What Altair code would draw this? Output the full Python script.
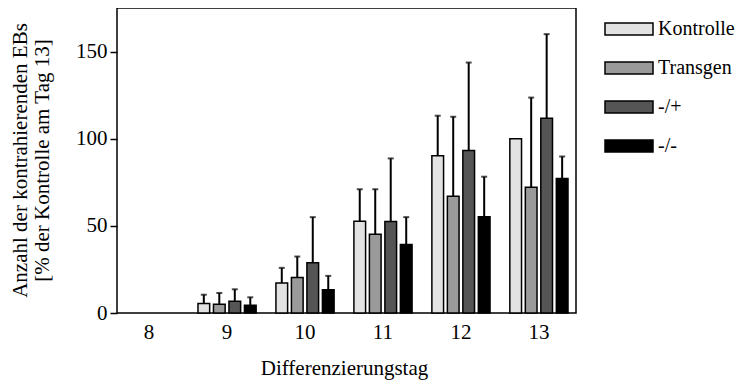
import altair as alt
import pandas as pd

days = ["8", "9", "10", "11", "12", "13"]
groups = ["Kontrolle", "Transgen", "-/+", "-/-"]
kontrolle = [0, 5.4, 17.2, 52.7, 90.2, 100]
kontrolle_err = [0, 10.5, 25.9, 71, 113.2, 100]
transgen = [0, 5, 20.3, 45.2, 67, 72.2]
transgen_err = [0, 11.5, 32.4, 71, 112.6, 123.6]
het = [0, 6.7, 28.9, 52.5, 93.3, 111.7]
het_err = [0, 13.6, 55, 88.7, 143.7, 160]
ko = [0, 4.4, 13.4, 39.3, 55.2, 77.2]
ko_err = [0, 9, 21.3, 55, 78.2, 89.8]
colors = ["#e2e2e2", "#9a9a9a", "#555555", "#000000"]

rows = []
for g, vals, errs in zip(groups, [kontrolle, transgen, het, ko],
                         [kontrolle_err, transgen_err, het_err, ko_err]):
    for d, v, e in zip(days, vals, errs):
        rows.append({"day": d, "group": g, "value": v, "upper": e})
df = pd.DataFrame(rows)

FONT = "Liberation Serif"

x = alt.X("day:N", sort=days,
          scale=alt.Scale(range=[3, 451], paddingInner=0.254, paddingOuter=0),
          axis=alt.Axis(title="Differenzierungstag", labelAngle=0, ticks=False,
                        labelPadding=8, titlePadding=15, domain=False))
xo = alt.XOffset("group:N", sort=groups, scale=alt.Scale(paddingInner=0.245, paddingOuter=0))
y_scale = alt.Scale(domain=[0, 175], nice=False)

base = alt.Chart(df)

bars = base.mark_bar(stroke="black", strokeWidth=1.5).encode(
    x=x,
    xOffset=xo,
    y=alt.Y("value:Q", scale=y_scale,
            axis=alt.Axis(title=["Anzahl der kontrahierenden EBs", "[% der Kontrolle am Tag 13]"],
                          values=[0, 50, 100, 150], grid=False, tickSize=7, domain=False,
                          labelPadding=3, titleAngle=-90, titleX=-108, titleY=152,
                          titleBaseline="top", titleLineHeight=22)),
    fill=alt.Fill("group:N", sort=groups,
                  scale=alt.Scale(domain=groups, range=colors),
                  legend=alt.Legend(title=None, orient="none", legendX=487, legendY=-4,
                                    symbolType="M-1,-0.25H1V0.25H-1Z", symbolSize=2304,
                                    symbolStrokeColor="black", symbolStrokeWidth=1.5,
                                    labelFont=FONT, labelFontSize=20, labelColor="black",
                                    rowPadding=4, labelOffset=4)),
    opacity=alt.condition(alt.datum.value > 0, alt.value(1), alt.value(0)),
)

errdf_filter = alt.datum.upper > alt.datum.value

rules = base.transform_filter(errdf_filter).mark_rule(color="black", strokeWidth=2).encode(
    x=x, xOffset=xo,
    y=alt.Y("value:Q", scale=y_scale),
    y2="upper:Q",
)
caps = base.transform_filter(errdf_filter).mark_tick(color="black", thickness=2, size=6,
                                                     orient="horizontal").encode(
    x=x, xOffset=xo,
    y=alt.Y("upper:Q", scale=y_scale),
)

chart = alt.layer(bars, rules, caps).properties(
    width=459, height=305,
    padding={"left": 109, "top": 0, "right": 163, "bottom": 67},
    autosize=alt.AutoSizeParams(type="none"),
).configure_view(stroke="black", strokeWidth=1.5).configure_axis(
    labelFont=FONT, titleFont=FONT, labelFontSize=21, titleFontSize=21,
    labelColor="black", titleColor="black", titleFontWeight="normal",
    tickColor="black", tickWidth=1.5,
)

chart.save("out.html", embed_options={"renderer": "svg", "actions": False})
